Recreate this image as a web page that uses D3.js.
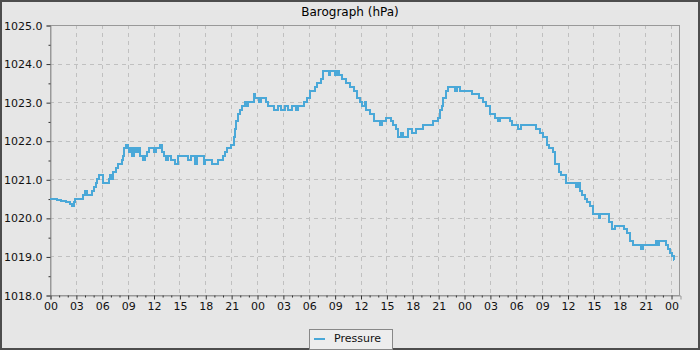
<!DOCTYPE html>
<html><head><meta charset="utf-8">
<script src="https://cdn.jsdelivr.net/npm/d3@7"></script>
<style>
html,body{margin:0;padding:0;background:#e6e6e6;}
svg{display:block;font-family:"DejaVu Sans",sans-serif;}
</style></head>
<body>
<svg id="c" width="700" height="350"></svg>
<script>
const title = "Barograph (hPa)";
const seriesName = "Pressure";
const hours = [0,0.8,1.3,1.9,2.3,2.6,2.75,2.9,3.8,4.1,4.25,4.9,5.1,5.3,5.5,5.7,6.1,6.8,7.0,7.2,7.3,7.6,7.9,8.3,8.5,8.6,8.8,9.0,9.2,9.3,9.5,9.7,10.0,10.2,10.4,10.8,11.0,11.3,11.5,12.0,12.3,12.8,12.95,13.2,13.5,13.7,14.0,14.5,14.8,16.0,16.3,16.8,17.0,17.8,18.0,18.8,19.5,20.0,20.3,20.5,21.0,21.3,21.4,21.6,21.8,22.0,22.3,22.6,22.8,23.0,23.6,23.8,24.2,24.5,25.0,25.3,26.0,26.4,26.8,27.2,27.6,28.0,28.5,28.8,29.5,29.8,30.1,30.7,31.0,31.4,31.7,32.3,32.5,33.0,33.3,33.5,33.8,34.3,34.8,35.2,35.6,35.9,36.2,36.5,36.6,37.1,37.6,38.3,38.5,38.9,39.5,39.8,40.1,40.3,40.7,40.9,41.5,42.0,42.4,43.3,44.4,45.0,45.2,45.4,45.6,45.9,46.2,47.0,47.2,47.5,48.9,49.7,50.2,50.5,51.0,51.6,51.9,52.2,53.3,53.6,54.3,54.6,56.3,56.8,57.1,57.6,57.9,58.3,58.6,59.0,59.3,59.8,61.0,61.2,61.4,61.7,62.0,62.3,62.6,63.0,63.6,63.8,64.8,65.2,65.5,66.6,66.9,67.2,67.6,68.5,68.8,70.2,70.4,70.6,71.4,71.6,71.9,72.1,72.3,72.4];
const pressure = [1020.5,1020.47,1020.43,1020.4,1020.37,1020.32,1020.4,1020.5,1020.6,1020.7,1020.6,1020.7,1020.8,1020.9,1021.0,1021.1,1020.9,1021.0,1021.1,1021.0,1021.2,1021.3,1021.4,1021.5,1021.6,1021.8,1021.9,1021.8,1021.7,1021.8,1021.6,1021.8,1021.7,1021.8,1021.6,1021.5,1021.6,1021.7,1021.8,1021.7,1021.8,1021.9,1021.7,1021.6,1021.5,1021.6,1021.5,1021.4,1021.6,1021.5,1021.6,1021.4,1021.6,1021.4,1021.5,1021.4,1021.5,1021.6,1021.7,1021.8,1021.9,1022.1,1022.3,1022.5,1022.7,1022.8,1022.9,1023.0,1022.9,1023.0,1023.2,1023.1,1023.0,1023.1,1023.0,1022.9,1022.8,1022.9,1022.8,1022.9,1022.8,1022.9,1022.8,1022.9,1023.0,1023.1,1023.3,1023.4,1023.5,1023.6,1023.8,1023.7,1023.8,1023.7,1023.8,1023.7,1023.6,1023.5,1023.4,1023.3,1023.1,1023.0,1022.9,1023.0,1022.8,1022.7,1022.5,1022.4,1022.5,1022.6,1022.5,1022.4,1022.3,1022.1,1022.2,1022.1,1022.3,1022.2,1022.3,1022.4,1022.5,1022.6,1022.8,1022.9,1023.1,1023.3,1023.4,1023.3,1023.4,1023.3,1023.2,1023.1,1023.0,1022.9,1022.7,1022.6,1022.5,1022.6,1022.5,1022.4,1022.3,1022.4,1022.3,1022.2,1022.1,1021.9,1021.8,1021.7,1021.4,1021.2,1021.1,1020.9,1020.8,1020.9,1020.7,1020.6,1020.5,1020.4,1020.3,1020.1,1020.0,1020.1,1019.9,1019.7,1019.8,1019.7,1019.6,1019.4,1019.3,1019.2,1019.3,1019.4,1019.3,1019.4,1019.3,1019.2,1019.1,1019.0,1018.9,1018.9];
const yTicks = [1018,1019,1020,1021,1022,1023,1024,1025];
const xTickHours = d3.range(0, 73, 3);
const xTickLabels = xTickHours.map(h => String(h % 24).padStart(2, "0"));

const svg = d3.select("#c");
const W = 700, H = 350;
const m = {l: 50, r: 20, t: 25, b: 55};
const x = d3.scaleLinear().domain([0, 73.04]).range([m.l, W - m.r]);
const y = d3.scaleLinear().domain([1018, 1025]).range([H - m.b, m.t]);

svg.append("rect").attr("x",1).attr("y",1).attr("width",W-2).attr("height",H-2)
  .attr("fill","#e6e6e6").attr("stroke","#4d4d4d").attr("stroke-width",2);

svg.append("text").attr("x", W/2).attr("y", 16).attr("text-anchor","middle")
  .attr("font-size", 12).attr("fill","#000").text(title);

// grid
const g = svg.append("g");
g.selectAll(".hg").data(yTicks.slice(1, -1)).join("line")
  .attr("x1", m.l).attr("x2", W - m.r)
  .attr("y1", d => Math.round(y(d)) + 0.5).attr("y2", d => Math.round(y(d)) + 0.5)
  .attr("stroke","#c0c0c0").attr("stroke-dasharray","4,4");
g.selectAll(".vg").data(xTickHours.slice(1)).join("line")
  .attr("x1", d => Math.round(x(d)) + 0.5).attr("x2", d => Math.round(x(d)) + 0.5)
  .attr("y1", m.t).attr("y2", H - m.b)
  .attr("stroke","#c0c0c0").attr("stroke-dasharray","4,4");

// plot outline
svg.append("rect").attr("x", m.l + 0.5).attr("y", m.t + 0.5)
  .attr("width", W - m.r - m.l - 1).attr("height", H - m.b - m.t)
  .attr("fill","none").attr("stroke","#999");

// axes
const yAxis = d3.axisLeft(y).tickValues(yTicks).tickFormat(d3.format(".1f")).tickSize(4).tickPadding(4);
const ya = svg.append("g").attr("transform", `translate(${m.l + 0.5},0.5)`).call(yAxis);
ya.select(".domain").attr("stroke","#999");
ya.selectAll(".tick line").attr("stroke","#333");
ya.selectAll("text").attr("font-size", 11).attr("font-family","DejaVu Sans").attr("fill","#111");
const yMinor = d3.axisLeft(y).tickValues(d3.range(1018.5, 1025, 1)).tickSize(2).tickFormat("");
const ym = svg.append("g").attr("transform", `translate(${m.l + 0.5},0.5)`).call(yMinor);
ym.select(".domain").remove();
ym.selectAll(".tick line").attr("stroke","#333");

const xAxis = d3.axisBottom(x).tickValues(xTickHours).tickFormat((d,i) => xTickLabels[i]).tickSize(4).tickPadding(3);
const xa = svg.append("g").attr("transform", `translate(0.5,${H - m.b + 0.5})`).call(xAxis);
xa.select(".domain").attr("stroke","#999");
xa.selectAll(".tick line").attr("stroke","#333");
xa.selectAll("text").attr("font-size", 11).attr("font-family","DejaVu Sans").attr("fill","#111");
const xMinor = d3.axisBottom(x).tickValues(d3.range(0, 73, 1).filter(h => h % 3 !== 0)).tickSize(2).tickFormat("");
const xm = svg.append("g").attr("transform", `translate(0.5,${H - m.b + 0.5})`).call(xMinor);
xm.select(".domain").remove();
xm.selectAll(".tick line").attr("stroke","#333");

// line
const data = hours.map((h, i) => [h, pressure[i]]);
const line = d3.line().x(d => x(d[0])).y(d => y(d[1])).curve(d3.curveStepAfter);
svg.append("path").datum(data).attr("d", line)
  .attr("fill","none").attr("stroke","#4aa8d8").attr("stroke-width",2)
  .attr("shape-rendering","crispEdges");

// legend
const lg = svg.append("g");
lg.append("rect").attr("x", 309.5).attr("y", 329.5).attr("width", 83).attr("height", 20)
  .attr("fill","#ededed").attr("stroke","#888");
lg.append("line").attr("x1", 314).attr("x2", 325).attr("y1", 339).attr("y2", 339)
  .attr("stroke","#4aa8d8").attr("stroke-width",2);
lg.append("text").attr("x", 334).attr("y", 342).attr("font-size", 11).attr("fill","#111").text(seriesName);
</script>
</body></html>
